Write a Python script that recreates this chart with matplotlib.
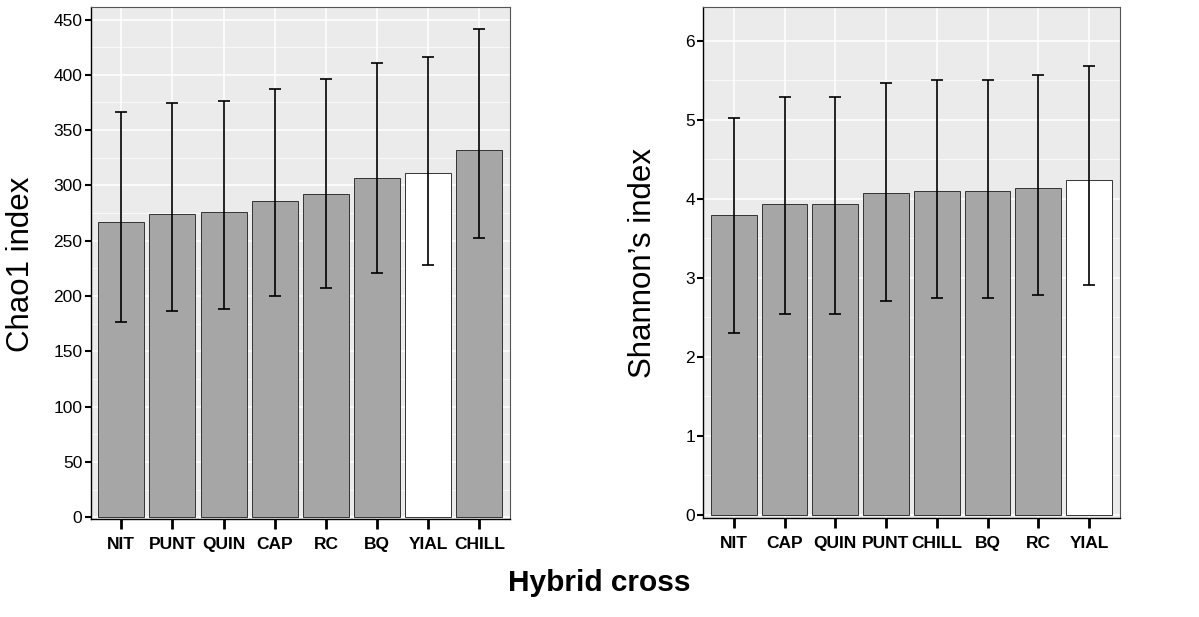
import numpy as np
import matplotlib.pyplot as plt
from matplotlib.ticker import MultipleLocator

plt.rcParams['font.family'] = ['Liberation Sans', 'DejaVu Sans']

# Chao1 panel
chao_sites = ['NIT', 'PUNT', 'QUIN', 'CAP', 'RC', 'BQ', 'YIAL', 'CHILL']
chao_mean = [266.6, 273.8, 275.6, 285.8, 291.9, 306.3, 310.8, 332.2]
chao_upper = [366.5, 374.4, 376.4, 387.3, 395.8, 410.5, 416.2, 441.8]
chao_lower = [176.7, 186.1, 187.9, 199.7, 207.2, 221.0, 228.0, 252.4]

# Shannon panel
shan_sites = ['NIT', 'CAP', 'QUIN', 'PUNT', 'CHILL', 'BQ', 'RC', 'YIAL']
shan_mean = [3.79, 3.93, 3.93, 4.07, 4.10, 4.10, 4.14, 4.24]
shan_upper = [5.02, 5.28, 5.28, 5.46, 5.50, 5.50, 5.56, 5.68]
shan_lower = [2.30, 2.54, 2.54, 2.71, 2.74, 2.75, 2.78, 2.91]

highlight = 'YIAL'
fSize = 12.5


def draw_panel(ax, sites, mean, lower, upper, ylim, major, minor):
    x = np.arange(len(sites))
    colors = ['white' if s == highlight else '#a6a6a6' for s in sites]
    ax.set_facecolor('#ebebeb')
    ax.set_axisbelow(True)
    ax.grid(which='major', color='white', linewidth=1.1)
    ax.grid(which='minor', axis='y', color='white', linewidth=0.5)
    ax.bar(x, mean, width=0.9, color=colors, edgecolor='#333333', linewidth=0.7, zorder=2)
    mean = np.asarray(mean)
    err = [mean - np.asarray(lower), np.asarray(upper) - mean]
    ax.errorbar(x, mean, yerr=err, fmt='none', ecolor='black', elinewidth=1.2,
                capsize=4.5, capthick=1.2, zorder=3)
    ax.set_xlim(-0.6, len(sites) - 0.4)
    ax.set_ylim(*ylim)
    ax.set_xticks(x)
    ax.set_xticklabels(sites, fontsize=fSize, fontweight='bold')
    ax.yaxis.set_major_locator(MultipleLocator(major))
    ax.yaxis.set_minor_locator(MultipleLocator(minor))
    ax.tick_params(axis='y', which='minor', length=0)
    ax.tick_params(axis='y', which='major', labelsize=fSize, length=4, width=1.5, pad=2)
    ax.tick_params(axis='x', length=7, width=2, pad=6)
    for side in ['top', 'right']:
        ax.spines[side].set_color('#555555')
        ax.spines[side].set_linewidth(0.8)
    for side in ['left', 'bottom']:
        ax.spines[side].set_color('black')
        ax.spines[side].set_linewidth(1.0)


fig = plt.figure(figsize=(11.99, 6.17), dpi=100)
ax1 = fig.add_axes([0.0756, 0.1593, 0.3498, 0.8288])
ax2 = fig.add_axes([0.5866, 0.1609, 0.3471, 0.8272])

draw_panel(ax1, chao_sites, chao_mean, chao_lower, chao_upper, (-1.3, 461), 50, 25)
draw_panel(ax2, shan_sites, shan_mean, shan_lower, shan_upper, (-0.034, 6.42), 1, 0.5)

fig.text(0.0175, 0.572, 'Chao1 index', rotation=90, ha='center', va='center', fontsize=22.5)
fig.text(0.536, 0.573, 'Shannon\u2019s index', rotation=90, ha='center', va='center', fontsize=22.5)
fig.text(0.5, 0.055, 'Hybrid cross', ha='center', va='center', fontsize=21.5, fontweight='bold')

fig.savefig('out.png', dpi=100)
